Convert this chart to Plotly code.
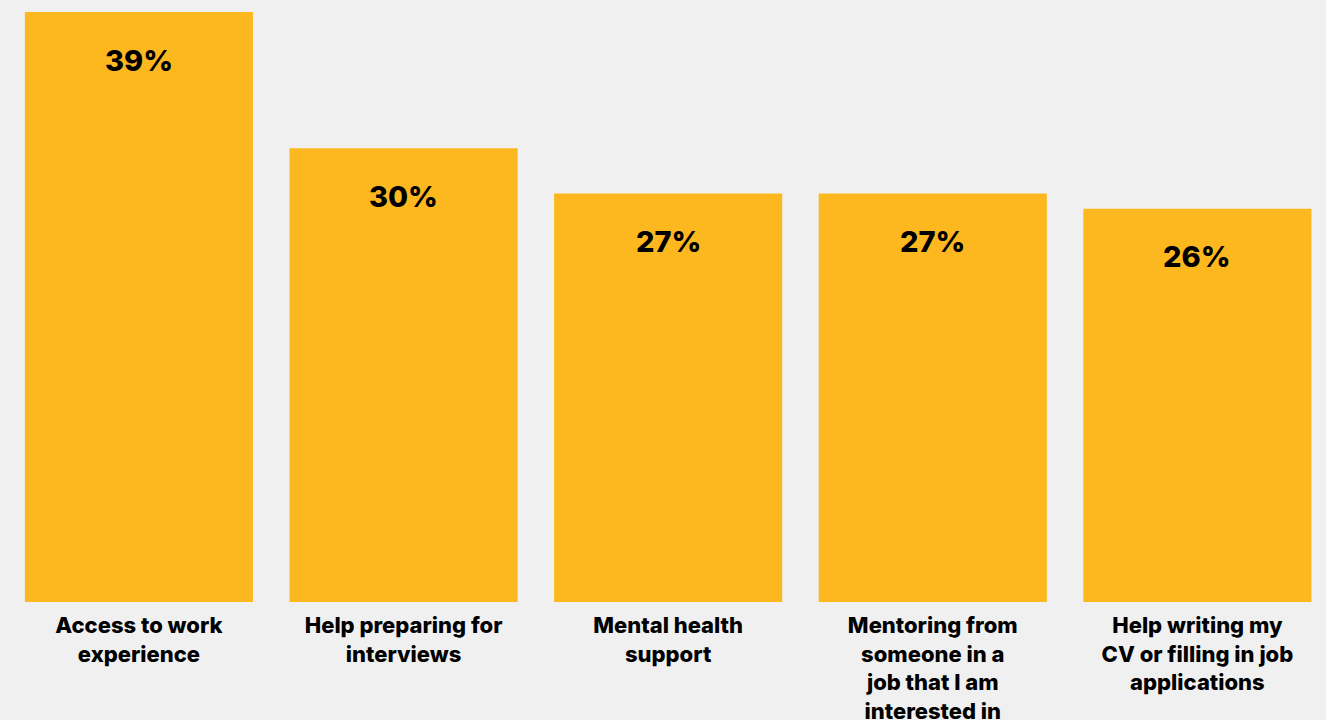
import plotly.graph_objects as go

categories = [
    "Access to work<br>experience",
    "Help preparing for<br>interviews",
    "Mental health<br>support",
    "Mentoring from<br>someone in a<br>job that I am<br>interested in",
    "Help writing my<br>CV or filling in job<br>applications",
]
values = [39, 30, 27, 27, 26]
value_labels = [f"{v}%" for v in values]

BAR = "#FDB71F"
BG = "#F0F0F0"
FONT = "Inter"

fig = go.Figure(
    go.Bar(
        x=list(range(len(categories))),
        y=values,
        marker=dict(color=BAR, line=dict(width=0)),
        hoverinfo="skip",
    )
)

for i, (v, lab) in enumerate(zip(values, value_labels)):
    fig.add_annotation(
        x=i, y=v, text=lab, showarrow=False,
        yanchor="middle", yshift=-48,
        font=dict(family=FONT, size=29, color="#000000", weight=800),
    )

fig.update_layout(
    width=1326, height=720,
    margin=dict(l=0, r=0, t=12, b=118),
    paper_bgcolor=BG, plot_bgcolor=BG,
    bargap=0.138,
    showlegend=False,
    xaxis=dict(
        tickmode="array",
        tickvals=list(range(len(categories))),
        ticktext=categories,
        range=[-0.525, 4.486],
        automargin=False,
        showgrid=False, zeroline=False, showline=False, ticks="",
        tickfont=dict(family=FONT, size=22, color="#000000", weight=800),
        ticklabelstandoff=8,
    ),
    yaxis=dict(
        range=[0, 39], visible=False, showgrid=False, zeroline=False,
        automargin=False,
    ),
)

fig.write_html("out.html")
